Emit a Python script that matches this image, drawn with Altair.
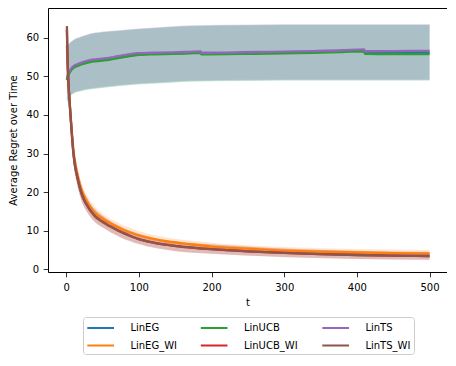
import altair as alt
import pandas as pd

# ---- data ----
SERIES = ["LinEG", "LinEG_WI", "LinUCB", "LinUCB_WI", "LinTS", "LinTS_WI"]
COLORS = ["#1f77b4", "#ff7f0e", "#2ca02c", "#d62728", "#9467bd", "#8c564b"]

X_TICKS = [0, 100, 200, 300, 400, 500]
Y_TICKS = [0, 10, 20, 30, 40, 50, 60]

# upper group (no warm start) mean lines
T_UP = [1, 2, 3, 5, 8, 12, 16, 20, 25, 33, 40, 50, 56, 65, 79, 90, 97, 120, 147, 170,
        185, 186, 220, 260, 300, 340, 380, 410, 411, 450, 500]
LINEG = [49.2, 49.9, 50.5, 51.2, 52.0, 52.6, 52.9, 53.2, 53.5, 53.9, 54.1, 54.3, 54.4, 54.7, 55.2,
         55.5, 55.7, 55.9, 56.0, 56.1, 56.2, 55.9, 55.95, 56.05, 56.15, 56.3, 56.5, 56.7, 56.1, 56.1, 56.1]
LINUCB = [49.0, 49.7, 50.3, 51.0, 51.8, 52.4, 52.7, 53.0, 53.3, 53.7, 53.9, 54.1, 54.2, 54.5, 55.0,
          55.3, 55.5, 55.7, 55.8, 55.95, 56.05, 55.7, 55.75, 55.85, 55.95, 56.1, 56.3, 56.5, 55.8, 55.75, 55.75]
LINTS = [49.5, 50.2, 50.8, 51.5, 52.3, 52.9, 53.2, 53.5, 53.8, 54.2, 54.4, 54.6, 54.7, 55.0, 55.5,
         55.8, 56.0, 56.1, 56.2, 56.35, 56.45, 56.1, 56.15, 56.3, 56.4, 56.55, 56.75, 57.0, 56.5, 56.55, 56.6]

# upper group bands
T_UP_BAND = [1, 3, 5, 10, 20, 33, 50, 75, 100, 140, 170, 250, 350, 500]
LINEG_HI = [56.9, 58.1, 58.6, 59.4, 60.2, 61.0, 61.5, 61.9, 62.3, 62.8, 63.1, 63.3, 63.4, 63.4]
LINEG_LO = [43.3, 44.3, 44.8, 45.6, 46.2, 46.7, 47.1, 47.6, 48.0, 48.4, 48.7, 48.9, 49.0, 49.0]
LINUCB_HI = [56.8, 58.0, 58.5, 59.3, 60.1, 60.9, 61.4, 61.8, 62.2, 62.7, 63.0, 63.2, 63.3, 63.3]
LINUCB_LO = [43.2, 44.2, 44.7, 45.5, 46.1, 46.6, 47.0, 47.5, 47.9, 48.3, 48.6, 48.8, 48.9, 48.9]
LINTS_HI = [57.0, 58.2, 58.7, 59.5, 60.3, 61.1, 61.6, 62.0, 62.4, 62.9, 63.2, 63.4, 63.5, 63.5]
LINTS_LO = [43.5, 44.5, 45.0, 45.8, 46.4, 46.9, 47.3, 47.8, 48.2, 48.6, 48.9, 49.1, 49.2, 49.2]

# lower group (warm start) mean lines
T_WI = [1, 2, 3, 4, 5, 6, 8, 10, 12, 14, 17, 20, 25, 30, 35, 40, 50, 60, 70, 80, 90, 100,
        120, 140, 160, 180, 200, 250, 300, 350, 400, 450, 500]
LINEG_WI = [58.0, 53.0, 48.5, 45.5, 42.8, 40.3, 35.2, 30.9, 28.0, 25.9, 23.4, 21.3, 18.8, 17.1, 15.7,
            14.6, 13.1, 12.0, 11.0, 10.1, 9.4, 8.8, 7.9, 7.2, 6.7, 6.3, 5.9, 5.35, 4.85, 4.55, 4.35, 4.2, 4.1]
LINUCB_WI = [62.0, 53.9, 48.9, 45.5, 42.5, 39.8, 34.5, 30.0, 27.0, 25.0, 22.5, 20.3, 17.8, 16.2, 14.8,
             13.7, 12.3, 11.2, 10.2, 9.3, 8.5, 7.8, 6.9, 6.3, 5.8, 5.5, 5.2, 4.65, 4.25, 3.95, 3.7, 3.55, 3.45]
LINTS_WI = [63.0, 54.0, 49.0, 45.5, 42.5, 39.8, 34.5, 30.0, 27.0, 25.0, 22.5, 20.3, 17.8, 16.2, 14.8,
            13.7, 12.3, 11.2, 10.2, 9.3, 8.5, 7.8, 6.9, 6.3, 5.8, 5.5, 5.2, 4.65, 4.25, 3.95, 3.7, 3.55, 3.45]

# lower group bands
T_WI_BAND = [1, 2, 5, 10, 15, 20, 30, 40, 50, 75, 100, 150, 200, 300, 400, 500]
LINEG_WI_HI = [60.0, 56.0, 45.4, 33.1, 27.0, 23.1, 18.7, 16.05, 14.45, 11.75, 9.95, 7.9, 6.9, 5.8, 5.25, 5.0]
LINEG_WI_LO = [56.0, 50.0, 40.2, 28.7, 23.0, 19.5, 15.5, 13.15, 11.75, 9.25, 7.65, 5.7, 4.9, 3.9, 3.45, 3.2]
LINUCB_WI_HI = [63.5, 56.9, 45.4, 32.6, 26.5, 22.4, 18.1, 15.4, 13.9, 11.1, 9.2, 7.25, 6.45, 5.4, 4.8, 4.5]
LINUCB_WI_LO = [60.5, 51.1, 39.6, 27.6, 22.1, 18.4, 14.5, 12.2, 10.9, 8.3, 6.6, 4.75, 4.05, 3.2, 2.7, 2.5]
LINTS_WI_HI = [64.5, 57.0, 45.5, 32.5, 26.4, 22.3, 18.0, 15.3, 13.8, 11.0, 9.1, 7.15, 6.4, 5.35, 4.75, 4.45]
LINTS_WI_LO = [61.5, 51.0, 39.5, 27.5, 22.0, 18.3, 14.4, 12.1, 10.8, 8.2, 6.5, 4.65, 4.0, 3.15, 2.65, 2.45]

# ---- build tables ----
line_src = {
    "LinEG": (T_UP, LINEG), "LinUCB": (T_UP, LINUCB), "LinTS": (T_UP, LINTS),
    "LinEG_WI": (T_WI, LINEG_WI), "LinUCB_WI": (T_WI, LINUCB_WI), "LinTS_WI": (T_WI, LINTS_WI),
}
band_src = {
    "LinEG": (T_UP_BAND, LINEG_LO, LINEG_HI),
    "LinEG_WI": (T_WI_BAND, LINEG_WI_LO, LINEG_WI_HI),
    "LinUCB": (T_UP_BAND, LINUCB_LO, LINUCB_HI),
    "LinUCB_WI": (T_WI_BAND, LINUCB_WI_LO, LINUCB_WI_HI),
    "LinTS": (T_UP_BAND, LINTS_LO, LINTS_HI),
    "LinTS_WI": (T_WI_BAND, LINTS_WI_LO, LINTS_WI_HI),
}
color_of = dict(zip(SERIES, COLORS))

FONT = "DejaVu Sans"
color_scale = alt.Scale(domain=SERIES, range=COLORS)
x_enc = alt.X("t:Q", scale=alt.Scale(domain=[-25, 524], nice=False, zero=False),
              axis=alt.Axis(values=X_TICKS, title="t", labelPadding=5.5, titlePadding=5))
y_scale = alt.Scale(domain=[-0.7, 67.7], nice=False, zero=False)
y_axis = alt.Axis(values=Y_TICKS, title="Average Regret over Time", labelPadding=4.5, titlePadding=7.5)

layers = []
for s in SERIES:
    t, lo, hi = band_src[s]
    df = pd.DataFrame({"t": t, "lo": lo, "hi": hi})
    layers.append(
        alt.Chart(df).mark_area(opacity=0.2, interpolate="monotone", color=color_of[s]).encode(
            x=x_enc,
            y=alt.Y("lo:Q", scale=y_scale, axis=y_axis, stack=None),
            y2="hi:Q",
        )
    )

legend = alt.Legend(
    orient="none", legendX=35, legendY=309, columns=3, title=None,
    symbolType="M-2,0H2", symbolSize=178, symbolOffset=6.65, symbolStrokeWidth=2,
    symbolOpacity=1, labelOffset=21.75,
    labelFont=FONT, labelFontSize=10, labelColor="black",
    strokeColor="#cccccc", fillColor="white", padding=3, cornerRadius=3,
    columnPadding=19.5, rowPadding=4.5,
)

for s in SERIES:
    t, v = line_src[s]
    df = pd.DataFrame({"t": t, "v": v, "series": s})
    layers.append(
        alt.Chart(df).mark_line(strokeWidth=2.3, interpolate="monotone").encode(
            x=x_enc,
            y=alt.Y("v:Q", scale=y_scale, axis=y_axis),
            color=alt.Color("series:N", scale=color_scale, legend=legend),
        )
    )

chart = alt.layer(*layers).properties(
    width=399, height=264,
    autosize=alt.AutoSizeParams(type="none"),
    padding={"left": 40, "top": 0, "right": 0, "bottom": 88},
).configure_view(
    stroke="black", strokeWidth=1
).configure_axis(
    grid=False, domain=False, ticks=True, tickColor="black", tickSize=4.8, tickWidth=0.8,
    labelFont=FONT, labelFontSize=10, labelColor="black",
    titleFont=FONT, titleFontSize=10, titleFontWeight="normal", titleColor="black",
)

chart.save("out.html", embed_options={"renderer": "svg", "actions": False})
